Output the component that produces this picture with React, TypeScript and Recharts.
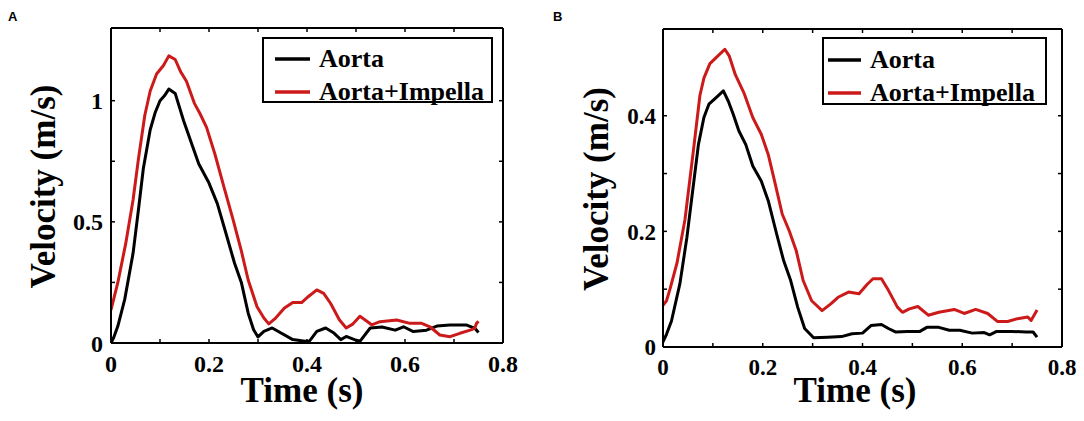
import React from "react";
import { LineChart, Line, XAxis, YAxis, Legend } from "recharts";

// Panel A: velocity traces (s, m/s)
const timeA_aorta = [0, 0.005, 0.014, 0.028, 0.045, 0.056, 0.066, 0.08, 0.09, 0.1, 0.109, 0.118, 0.131, 0.148, 0.165, 0.179, 0.2, 0.217, 0.235, 0.252, 0.266, 0.28, 0.291, 0.3, 0.312, 0.329, 0.347, 0.371, 0.396, 0.405, 0.42, 0.438, 0.455, 0.469, 0.48, 0.497, 0.508, 0.529, 0.553, 0.58, 0.597, 0.617, 0.644, 0.665, 0.692, 0.726, 0.743, 0.75];
const velA_aorta = [0, 0.02, 0.07, 0.18, 0.37, 0.55, 0.72, 0.88, 0.95, 1.0, 1.02, 1.048, 1.03, 0.918, 0.82, 0.74, 0.66, 0.575, 0.45, 0.33, 0.25, 0.123, 0.055, 0.025, 0.048, 0.062, 0.041, 0.014, 0.007, 0.008, 0.048, 0.062, 0.041, 0.014, 0.027, 0.014, 0.007, 0.062, 0.066, 0.053, 0.067, 0.047, 0.053, 0.07, 0.074, 0.074, 0.06, 0.043];
const timeA_impella = [0, 0.014, 0.03, 0.045, 0.056, 0.069, 0.08, 0.093, 0.107, 0.118, 0.131, 0.142, 0.154, 0.17, 0.182, 0.195, 0.212, 0.231, 0.249, 0.266, 0.28, 0.298, 0.312, 0.322, 0.336, 0.354, 0.371, 0.389, 0.403, 0.42, 0.434, 0.448, 0.466, 0.48, 0.494, 0.508, 0.518, 0.532, 0.549, 0.583, 0.61, 0.634, 0.651, 0.671, 0.692, 0.712, 0.733, 0.742, 0.746, 0.75];
const velA_impella = [0.137, 0.25, 0.41, 0.59, 0.76, 0.94, 1.04, 1.11, 1.145, 1.185, 1.17, 1.12, 1.08, 0.99, 0.945, 0.89, 0.78, 0.64, 0.51, 0.38, 0.26, 0.15, 0.103, 0.079, 0.103, 0.144, 0.167, 0.167, 0.192, 0.219, 0.205, 0.164, 0.096, 0.062, 0.079, 0.11, 0.096, 0.075, 0.088, 0.095, 0.081, 0.081, 0.067, 0.033, 0.026, 0.04, 0.053, 0.06, 0.081, 0.09];

// Panel B
const timeB_aorta = [0, 0.007, 0.017, 0.034, 0.048, 0.057, 0.071, 0.082, 0.092, 0.106, 0.121, 0.131, 0.141, 0.152, 0.166, 0.18, 0.197, 0.211, 0.228, 0.242, 0.256, 0.27, 0.284, 0.302, 0.33, 0.358, 0.379, 0.4, 0.417, 0.438, 0.452, 0.466, 0.49, 0.515, 0.529, 0.553, 0.574, 0.595, 0.62, 0.644, 0.655, 0.669, 0.7, 0.728, 0.742, 0.75];
const velB_aorta = [0.009, 0.022, 0.045, 0.11, 0.19, 0.253, 0.35, 0.397, 0.42, 0.431, 0.443, 0.425, 0.402, 0.374, 0.35, 0.313, 0.287, 0.253, 0.195, 0.149, 0.115, 0.069, 0.032, 0.016, 0.017, 0.018, 0.023, 0.024, 0.037, 0.039, 0.032, 0.026, 0.027, 0.027, 0.034, 0.034, 0.029, 0.029, 0.024, 0.025, 0.021, 0.027, 0.027, 0.026, 0.026, 0.017];
const timeB_impella = [0, 0.007, 0.014, 0.028, 0.044, 0.061, 0.074, 0.082, 0.094, 0.106, 0.124, 0.133, 0.145, 0.162, 0.18, 0.197, 0.211, 0.225, 0.239, 0.253, 0.267, 0.281, 0.298, 0.319, 0.337, 0.351, 0.372, 0.393, 0.41, 0.421, 0.438, 0.452, 0.47, 0.48, 0.494, 0.511, 0.532, 0.553, 0.584, 0.604, 0.627, 0.651, 0.671, 0.691, 0.711, 0.731, 0.738, 0.75];
const velB_impella = [0.072, 0.08, 0.1, 0.145, 0.22, 0.34, 0.435, 0.465, 0.49, 0.5, 0.515, 0.503, 0.471, 0.44, 0.397, 0.368, 0.333, 0.282, 0.23, 0.201, 0.167, 0.115, 0.08, 0.063, 0.075, 0.086, 0.095, 0.092, 0.109, 0.118, 0.118, 0.098, 0.069, 0.06, 0.066, 0.07, 0.055, 0.06, 0.065, 0.058, 0.065, 0.058, 0.044, 0.044, 0.049, 0.052, 0.046, 0.064];

const seriesNames = ["Aorta", "Aorta+Impella"];
const timeTicks = [0, 0.1, 0.2, 0.3, 0.4, 0.5, 0.6, 0.7, 0.8];
const timeLabels = [0, 0.2, 0.4, 0.6, 0.8];
const velTicksA = [0, 0.25, 0.5, 0.75, 1];
const velLabelsA = [0, 0.5, 1];
const velTicksB = [0, 0.1, 0.2, 0.3, 0.4];
const velLabelsB = [0, 0.2, 0.4];

const toPoints = (ts: number[], vs: number[]) => ts.map((t, i) => ({ t, v: vs[i] }));

const SERIF = "'Liberation Serif', 'Times New Roman', serif";
const RED = "#cc1a1a";

const pick = (labels: number[], v: number) =>
  labels.some((l) => Math.abs(l - v) < 1e-6) ? String(v) : "";

// custom tick so the serif font is applied to the text
const makeTick = (labels: number[], size: number, dy: string) => (props: any) => {
  const label = pick(labels, props.payload.value);
  if (!label) return <g />;
  return (
    <text
      x={props.x}
      y={props.y}
      dy={dy}
      textAnchor={props.textAnchor}
      fill="#000"
      style={{ fontFamily: SERIF, fontWeight: "bold", fontSize: size }}
    >
      {label}
    </text>
  );
};

type LegendCfg = { left: number; top: number; w: number; h: number; sampleX: number; sampleLen: number; gap: number; rows: number[] };

const makeLegend = (cfg: LegendCfg) => (props: any) => (
  <div style={{ position: "relative", width: cfg.w, height: cfg.h, border: "2px solid #000", boxSizing: "border-box", background: "#fff" }}>
    {(props.payload || []).map((e: any, i: number) => (
      <div key={i} style={{ position: "absolute", left: cfg.sampleX, top: cfg.rows[i] - 15, height: 30, display: "flex", alignItems: "center", whiteSpace: "nowrap" }}>
        <svg width={cfg.sampleLen} height={4} style={{ display: "block" }}>
          <line x1={0} y1={2} x2={cfg.sampleLen} y2={2} stroke={e.color} strokeWidth={3.5} />
        </svg>
        <span style={{ marginLeft: cfg.gap, fontFamily: SERIF, fontWeight: "bold", fontSize: 26, lineHeight: 1, color: "#000" }}>{e.value}</span>
      </div>
    ))}
  </div>
);

type PanelProps = {
  letter: string;
  letterX: number;
  aorta: { t: number; v: number }[];
  impella: { t: number; v: number }[];
  yMax: number;
  yTicks: number[];
  yLabels: number[];
  plot: { left: number; top: number; right: number; bottom: number };
  tickFont: number;
  xTickMargin: number;
  yTickMargin: number;
  xTitleX: number;
  yTitleX: number;
  legend: LegendCfg;
};

function Panel(p: PanelProps) {
  const W = 542;
  const H = 421;
  const axisLine = { stroke: "#000", strokeWidth: 2 };
  const tickLine = { stroke: "#000", strokeWidth: 1.5 };
  const titleStyle = { fontFamily: SERIF, fontWeight: "bold", fontSize: 35 };

  const xTitle = () => (
    <text x={p.xTitleX} y={402} textAnchor="middle" fill="#000" style={titleStyle}>
      Time (s)
    </text>
  );
  const yTitle = () => {
    const cy = (p.plot.top + (H - p.plot.bottom)) / 2 + 1;
    return (
      <text x={p.yTitleX} y={cy} transform={`rotate(-90 ${p.yTitleX} ${cy})`} textAnchor="middle" dominantBaseline="central" fill="#000" style={titleStyle}>
        Velocity (m/s)
      </text>
    );
  };

  return (
    <div style={{ position: "relative", width: W, height: H }}>
      <div style={{ position: "absolute", left: p.letterX, top: 10, fontFamily: "'Liberation Sans', Arial, sans-serif", fontWeight: "bold", fontSize: 13, lineHeight: 1, zIndex: 2 }}>
        {p.letter}
      </div>
      <LineChart width={W} height={H} margin={{ top: 0, right: 0, bottom: 0, left: 0 }}>
        <XAxis
          xAxisId="bottom"
          dataKey="t"
          type="number"
          orientation="bottom"
          domain={[0, 0.8]}
          allowDataOverflow
          ticks={timeTicks}
          interval={0}
          height={p.plot.bottom}
          tickSize={-4}
          tickMargin={p.xTickMargin}
          axisLine={axisLine}
          tickLine={tickLine}
          tick={makeTick(timeLabels, p.tickFont, "0.71em")}
          label={{ value: "Time (s)", content: xTitle }}
        />
        <XAxis
          xAxisId="top"
          dataKey="t"
          type="number"
          orientation="top"
          domain={[0, 0.8]}
          allowDataOverflow
          ticks={timeTicks}
          interval={0}
          height={p.plot.top}
          tickSize={-4}
          axisLine={axisLine}
          tickLine={tickLine}
          tick={makeTick([], p.tickFont, "0")}
        />
        <YAxis
          yAxisId="left"
          type="number"
          orientation="left"
          domain={[0, p.yMax]}
          allowDataOverflow
          ticks={p.yTicks}
          interval={0}
          width={p.plot.left}
          tickSize={-4}
          tickMargin={p.yTickMargin}
          axisLine={axisLine}
          tickLine={tickLine}
          tick={makeTick(p.yLabels, p.tickFont, "0.355em")}
          label={{ value: "Velocity (m/s)", content: yTitle }}
        />
        <YAxis
          yAxisId="right"
          type="number"
          orientation="right"
          domain={[0, p.yMax]}
          allowDataOverflow
          ticks={p.yTicks}
          interval={0}
          width={p.plot.right}
          tickSize={-4}
          axisLine={axisLine}
          tickLine={tickLine}
          tick={makeTick([], p.tickFont, "0")}
        />
        <Line
          xAxisId="bottom"
          yAxisId="left"
          data={p.aorta}
          dataKey="v"
          name={seriesNames[0]}
          type="linear"
          stroke="#000"
          strokeWidth={3}
          strokeLinejoin="round"
          dot={false}
          isAnimationActive={false}
        />
        <Line
          xAxisId="bottom"
          yAxisId="left"
          data={p.impella}
          dataKey="v"
          name={seriesNames[1]}
          type="linear"
          stroke={RED}
          strokeWidth={3}
          strokeLinejoin="round"
          dot={false}
          isAnimationActive={false}
        />
        <Legend
          layout="vertical"
          align="center"
          verticalAlign="middle"
          wrapperStyle={{ left: p.legend.left, top: p.legend.top, width: p.legend.w, height: p.legend.h }}
          content={makeLegend(p.legend)}
        />
      </LineChart>
    </div>
  );
}

export default function App() {
  return (
    <div style={{ position: "absolute", left: 0, top: 0, width: 1084, height: 421, background: "#fff", display: "flex" }}>
      <Panel
        letter="A"
        letterX={8}
        aorta={toPoints(timeA_aorta, velA_aorta)}
        impella={toPoints(timeA_impella, velA_impella)}
        yMax={1.3}
        yTicks={velTicksA}
        yLabels={velLabelsA}
        plot={{ left: 111, top: 28, right: 39, bottom: 78 }}
        tickFont={24}
        xTickMargin={16}
        yTickMargin={12}
        xTitleX={302}
        yTitleX={43}
        legend={{ left: 262, top: 37, w: 231, h: 66, sampleX: 11, sampleLen: 35, gap: 9, rows: [20, 53] }}
      />
      <Panel
        letter="B"
        letterX={11}
        aorta={toPoints(timeB_aorta, velB_aorta)}
        impella={toPoints(timeB_impella, velB_impella)}
        yMax={0.55}
        yTicks={velTicksB}
        yLabels={velLabelsB}
        plot={{ left: 121, top: 29, right: 22, bottom: 74 }}
        tickFont={23}
        xTickMargin={16}
        yTickMargin={11}
        xTitleX={313}
        yTitleX={54}
        legend={{ left: 280, top: 37, w: 225, h: 68, sampleX: 4, sampleLen: 33, gap: 9, rows: [21, 54] }}
      />
    </div>
  );
}
